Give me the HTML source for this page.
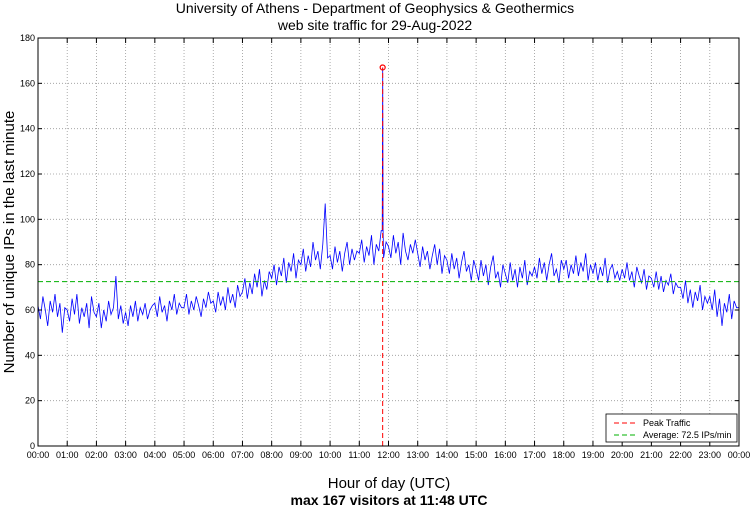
<!DOCTYPE html>
<html><head><meta charset="utf-8"><style>
html,body{margin:0;padding:0;background:#fff;}
svg{display:block;font-family:"Liberation Sans",sans-serif;}
</style></head><body>
<svg id="chart" width="750" height="511" viewBox="0 0 750 511">
<text x="375" y="13" text-anchor="middle" font-size="14">University of Athens - Department of Geophysics &amp; Geothermics</text>
<text x="375" y="30" text-anchor="middle" font-size="14">web site traffic for 29-Aug-2022</text>
<text transform="translate(14,242) rotate(-90)" text-anchor="middle" font-size="15">Number of unique IPs in the last minute</text>
<text x="389" y="488" text-anchor="middle" font-size="15">Hour of day (UTC)</text>
<text x="389" y="505" text-anchor="middle" font-size="14" font-weight="bold">max 167 visitors at 11:48 UTC</text>
<g id="grid"></g><g id="series"></g><g id="axes"></g>
<g>
<rect x="606" y="414" width="131" height="28" fill="#fff" stroke="#000" stroke-width="0.8"/>
<line x1="614" y1="423" x2="638" y2="423" stroke="#f00" stroke-dasharray="5,3"/>
<text x="643" y="426" font-size="9">Peak Traffic</text>
<line x1="614" y1="435" x2="638" y2="435" stroke="#00b000" stroke-dasharray="5,3"/>
<text x="643" y="438" font-size="9">Average: 72.5 IPs/min</text>
</g>
</svg>
<script>
const yTicks=[0,20,40,60,80,100,120,140,160,180];
const xTickLabels=["00:00","01:00","02:00","03:00","04:00","05:00","06:00","07:00","08:00","09:00","10:00","11:00","12:00","13:00","14:00","15:00","16:00","17:00","18:00","19:00","20:00","21:00","22:00","23:00","00:00"];
const trafficValues=[
62,56,66,60,53,64,59,67,57,63,50,61,
60,55,65,58,67,54,61,57,63,52,66,59,
57,63,52,60,55,64,58,61,75,56,62,54,
59,53,62,57,64,55,61,58,63,56,60,62,
63,57,66,59,62,55,64,60,67,58,63,61,
61,67,58,64,60,66,62,57,65,61,68,63,
64,59,68,62,66,60,70,63,67,61,71,66,
68,74,65,72,67,76,70,78,66,73,69,77,
74,80,71,79,75,83,72,81,77,85,74,82,
80,87,77,84,79,90,82,86,78,89,107,83,
84,78,88,81,86,77,85,90,80,87,82,86,
85,91,81,88,84,93,80,89,86,95,83,90,
88,83,93,85,90,80,94,86,82,89,85,91,
85,79,88,82,86,78,84,89,80,87,76,84,
82,76,85,78,83,74,81,86,77,80,73,82,
78,73,82,75,80,71,79,84,74,77,70,80,
76,72,81,73,78,70,79,74,82,71,77,75,
79,74,83,76,81,73,80,85,75,78,72,82,
78,82,74,80,76,84,75,81,77,85,73,80,
76,81,73,79,75,83,72,78,80,74,77,73,
78,74,81,73,77,70,79,75,72,78,69,75,
74,70,77,69,75,68,73,71,76,67,72,70,
70,65,73,63,69,61,68,64,71,60,66,63,
66,60,69,57,65,53,63,59,67,56,64,61];
const sampleMinutes=5;
const peakMinute=708, peakValue=167;
const averageValue=72.5;
const X0=38,X1=739,Y0=446,Y1=38;
const xs=m=>X0+(m/1440)*(X1-X0);
const ys=v=>Y0-(v/180)*(Y0-Y1);
const NS="http://www.w3.org/2000/svg";
function mk(tag,attrs,parent){const e=document.createElementNS(NS,tag);for(const k in attrs)e.setAttribute(k,attrs[k]);document.getElementById(parent).appendChild(e);return e;}
yTicks.forEach(v=>{
 if(v>0&&v<180){const g=mk('line',{x1:X0,x2:X1,y1:ys(v),y2:ys(v),stroke:'#999','stroke-width':0.8,'stroke-dasharray':'1,2'},'grid');
 
 }
 const t=mk('text',{x:X0-3,y:ys(v)+3,'text-anchor':'end','font-size':9},'axes');t.textContent=v;
 
 
 mk('line',{x1:X0,x2:X0+4,y1:ys(v),y2:ys(v),stroke:'#000'},'axes');
 mk('line',{x1:X1,x2:X1-4,y1:ys(v),y2:ys(v),stroke:'#000'},'axes');
});
xTickLabels.forEach((l,i)=>{
 const x=xs(i*60);
 if(i>0&&i<24){const g=mk('line',{x1:x,x2:x,y1:Y1,y2:Y0,stroke:'#999','stroke-width':0.8,'stroke-dasharray':'1,2'},'grid');
 
 }
 mk('line',{x1:x,x2:x,y1:Y0,y2:Y0-5,stroke:'#000'},'axes');
 mk('line',{x1:x,x2:x,y1:Y1,y2:Y1+5,stroke:'#000'},'axes');
 const t=mk('text',{x:x,y:Y0+12,'text-anchor':'middle','font-size':9},'axes');t.textContent=l;
 
 
});
const fr=mk('rect',{x:X0,y:Y1,width:X1-X0,height:Y0-Y1,fill:'none',stroke:'#000','stroke-width':1},'axes');


let pts=[];
trafficValues.forEach((v,i)=>{
 const m=i*sampleMinutes;
 if(m<=peakMinute&&m+sampleMinutes>peakMinute){pts.push([m,v]);pts.push([peakMinute-1,v]);pts.push([peakMinute,peakValue]);pts.push([peakMinute+1,v]);}
 else pts.push([m,v]);
});
pts.push([1440,trafficValues[trafficValues.length-1]]);
const line=mk('polyline',{points:pts.map(p=>xs(p[0]).toFixed(1)+','+ys(p[1]).toFixed(1)).join(' '),fill:'none',stroke:'#0000ff','stroke-width':0.8},'series');


const av=mk('line',{x1:X0,x2:X1,y1:ys(averageValue),y2:ys(averageValue),stroke:'#00b000','stroke-dasharray':'5,3'},'series');


const pk=mk('line',{x1:xs(peakMinute),x2:xs(peakMinute),y1:Y0,y2:ys(peakValue),stroke:'#f00','stroke-dasharray':'5,3'},'series');


const pm=mk('circle',{cx:xs(peakMinute),cy:ys(peakValue),r:2.5,fill:'none',stroke:'#f00','stroke-width':1.2},'series');


</script>
</body></html>
